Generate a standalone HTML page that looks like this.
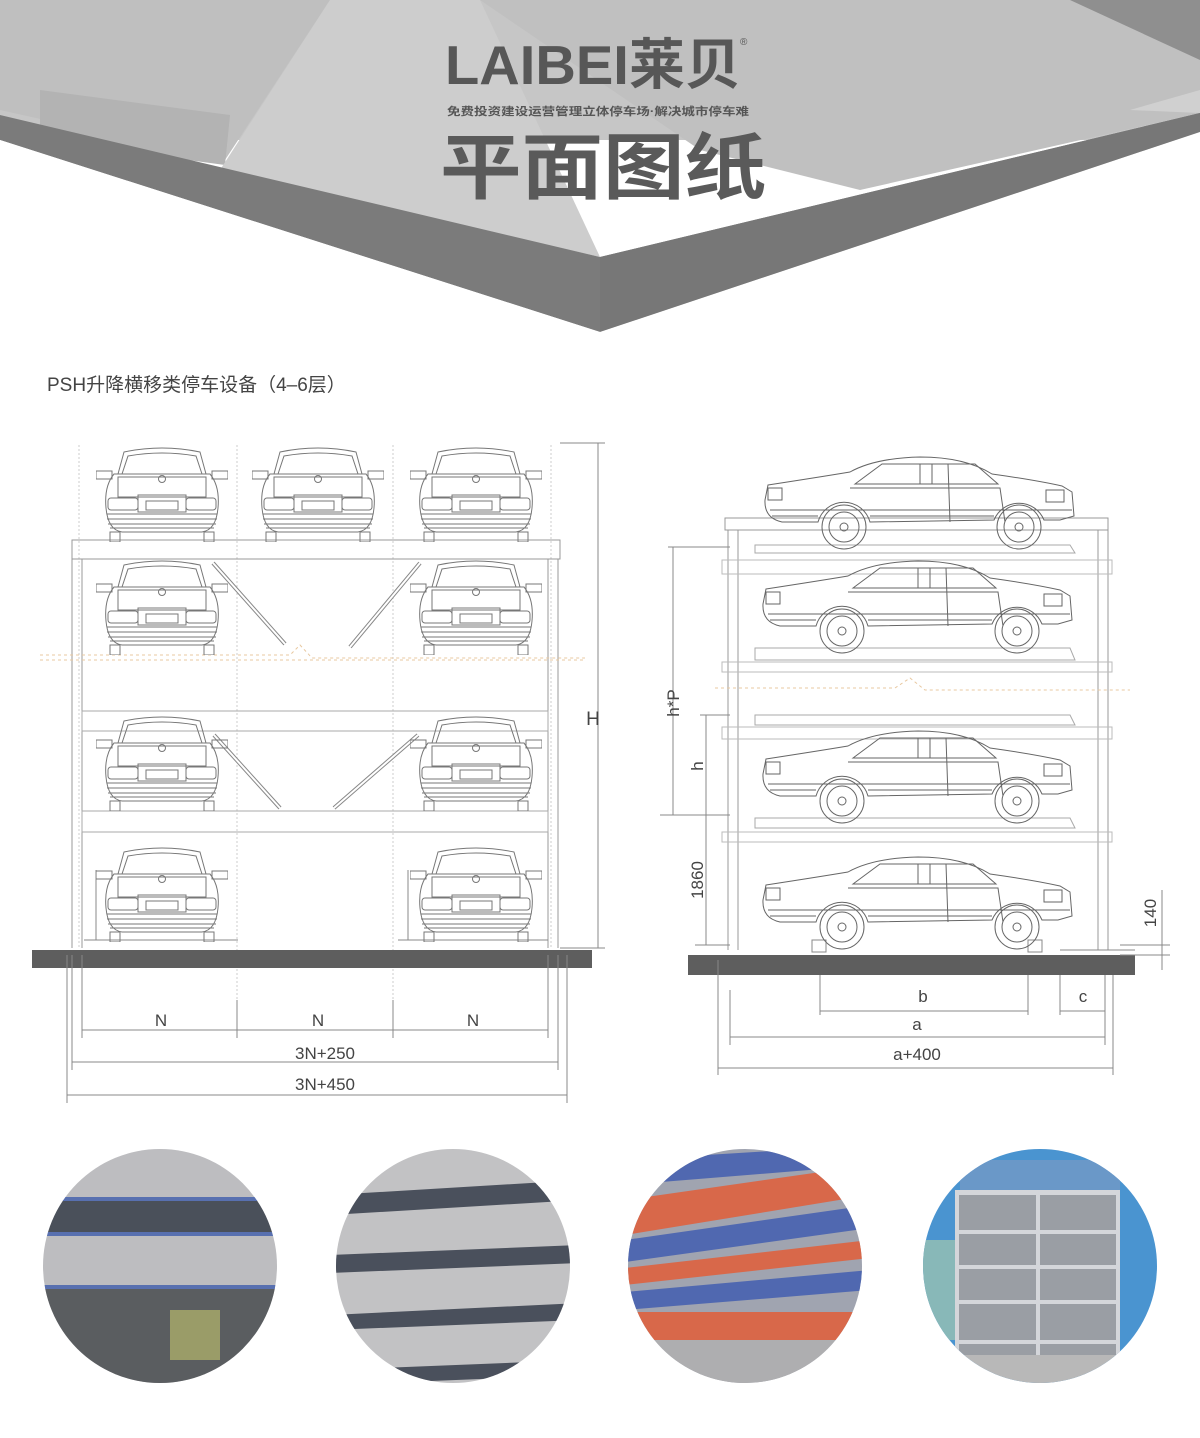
<!DOCTYPE html>
<html><head><meta charset="utf-8"><style>
html,body{margin:0;padding:0;background:#fff}
body{width:1200px;height:1438px;position:relative;overflow:hidden;font-family:"Liberation Sans","Noto Sans CJK SC",sans-serif}
svg{position:absolute;left:0;top:0}
</style></head><body>
<svg width="1200" height="1438" viewBox="0 0 1200 1438" xmlns="http://www.w3.org/2000/svg">
<defs>
<symbol id="fc" viewBox="0 0 132 96" width="132" height="96">
<g fill="none" stroke="#777" stroke-width="1">
<path d="M22,28 L28,6 Q66,-2 104,6 L110,28"/>
<path d="M26,28 L32,10 Q66,4 100,10 L106,28"/>
<rect x="0" y="25" width="16" height="8"/><rect x="116" y="25" width="16" height="8"/>
<path d="M18,28 L114,28 Q124,40 122,62 Q120,84 106,86 L26,86 Q12,84 10,62 Q8,40 18,28 Z"/>
<rect x="22" y="31" width="88" height="20"/><circle cx="66" cy="33" r="3.5"/>
<rect x="12" y="52" width="30" height="12" rx="3"/><rect x="90" y="52" width="30" height="12" rx="3"/>
<rect x="42" y="49" width="48" height="17"/><rect x="50" y="55" width="32" height="9"/>
<path d="M11,68 H121 M11,73 H121 M12,78 H120 M14,82 H118"/>
<rect x="14" y="86" width="10" height="10"/><rect x="108" y="86" width="10" height="10"/>
</g></symbol>
<symbol id="sc" viewBox="0 0 320 100" width="320" height="100">
<g fill="none" stroke="#666" stroke-width="1">
<path d="M5,48 L8,33 Q60,25 90,20 Q115,6 160,5 Q205,5 232,22 Q275,28 302,34 L312,40 L314,64 L300,68 L284,68 A27 27 0 0 0 234,68 L110,70 A27 27 0 0 0 58,70 L22,70 Q4,66 5,48 Z"/>
<path d="M95,32 L122,12 L215,12 L238,32 Z M160,12 V32 M172,12 V32 M188,12 L190,70"/>
<path d="M90,36 H240 L245,70 M10,58 H312 M12,64 H58 M110,64 H234"/>
<rect x="8" y="36" width="14" height="12"/><rect x="286" y="38" width="18" height="12"/>
<circle cx="84" cy="75" r="22"/><circle cx="84" cy="75" r="15"/><circle cx="84" cy="75" r="4"/>
<circle cx="259" cy="75" r="22"/><circle cx="259" cy="75" r="15"/><circle cx="259" cy="75" r="4"/>
</g></symbol>
<clipPath id="c1"><circle cx="160" cy="1266" r="117"/></clipPath>
<clipPath id="c2"><circle cx="453" cy="1266" r="117"/></clipPath>
<clipPath id="c3"><circle cx="745" cy="1266" r="117"/></clipPath>
<clipPath id="c4"><circle cx="1040" cy="1266" r="117"/></clipPath>
</defs>

<!-- header -->
<rect x="0" y="0" width="1200" height="140" fill="#c6c6c6"/>
<polygon points="0,0 330,0 225,160 0,110" fill="#bfbfbf"/>
<polygon points="40,90 230,115 225,165 40,140" fill="#b3b3b3"/>
<polygon points="330,0 480,0 600,257 220,170" fill="#cdcdcd"/>
<polygon points="480,0 1100,0 1200,60 1200,113 860,190 700,150" fill="#c0c0c0"/>
<polygon points="1070,0 1200,0 1200,60" fill="#8f8f8f"/>
<polygon points="1130,110 1200,90 1200,113" fill="#d0d0d0"/>
<polygon points="0,115 600,257 1200,113 1200,132 600,332 0,140" fill="#7b7b7b"/>
<polygon points="600,257 1200,113 1200,132 600,332" fill="#777"/>
<polygon points="0,140 600,332 1200,132 1200,1438 0,1438" fill="#fff"/>
<text x="445" y="84" font-size="55" font-weight="bold" fill="#575757" textLength="296" lengthAdjust="spacingAndGlyphs">LAIBEI莱贝</text>
<text x="740" y="45" font-size="10" fill="#575757">®</text>
<text x="447" y="115" font-size="11" font-weight="bold" fill="#555" textLength="302" lengthAdjust="spacingAndGlyphs">免费投资建设运营管理立体停车场·解决城市停车难</text>
<text x="440" y="193" font-size="72" font-weight="bold" fill="#5a5a5a" textLength="326" lengthAdjust="spacingAndGlyphs">平面图纸</text>

<text x="47" y="391" font-size="19" fill="#444">PSH升降横移类停车设备（4–6层）</text>

<!-- LEFT DIAGRAM -->
<g fill="none" stroke="#999" stroke-width="1">
<path d="M79,445 V948 M237,445 V1035 M393,445 V1035 M551,445 V948" stroke="#ccc" stroke-dasharray="2,2"/>
<rect x="72" y="540" width="488" height="19"/>
<path d="M72,559 V948 M82,559 V948 M548,559 V948 M558,559 V948"/>
<rect x="82" y="711" width="466" height="20" stroke="#aaa"/>
<rect x="82" y="811" width="466" height="21" stroke="#aaa"/>
<path d="M40,655 H290 L300,645 L312,658 H585 M40,660 H585" stroke="#e8c8a0" stroke-dasharray="3,3"/>
<path d="M213,563 L285,644 M420,563 L350,647 M214,735 L280,808 M418,735 L334,808" stroke="#888" stroke-width="4"/>
<path d="M213,563 L285,644 M420,563 L350,647 M214,735 L280,808 M418,735 L334,808" stroke="#fff" stroke-width="2"/>
<path d="M96,870 V940 M408,870 V940" stroke="#888"/>
<path d="M84,940 H238 M398,940 H548" stroke="#888"/>
</g>
<use href="#fc" x="96" y="446"/><use href="#fc" x="252" y="446"/><use href="#fc" x="410" y="446"/>
<use href="#fc" x="96" y="559"/><use href="#fc" x="410" y="559"/>
<use href="#fc" x="96" y="715"/><use href="#fc" x="410" y="715"/>
<use href="#fc" x="96" y="846"/><use href="#fc" x="410" y="846"/>
<rect x="32" y="950" width="560" height="18" fill="#5e5e5e"/>
<g stroke="#888" stroke-width="1" fill="none">
<path d="M560,443 H605 M598,443 V948 M560,948 H605"/>
<path d="M67,955 V1103 M72,955 V1070 M82,955 V1038 M548,955 V1038 M558,955 V1070 M567,955 V1103 M237,1000 V1038 M393,1000 V1038"/>
<path d="M82,1030 H548 M72,1062 H558 M67,1095 H567"/>
</g>
<g fill="#444" font-size="17" text-anchor="middle">
<text x="593" y="725" font-size="19">H</text>
<text x="161" y="1026">N</text><text x="318" y="1026">N</text><text x="473" y="1026">N</text>
<text x="325" y="1059">3N+250</text><text x="325" y="1090">3N+450</text>
</g>

<!-- RIGHT DIAGRAM -->
<g fill="none" stroke="#999" stroke-width="1">
<rect x="725" y="518" width="383" height="12"/>
<path d="M728,530 V950 M738,530 V950 M1098,530 V950 M1108,530 V950"/>
<path d="M755,545 H1070 L1075,553 H755 Z M755,648 H1070 L1075,660 H755 Z M755,715 H1070 L1075,725 H755 Z M755,818 H1070 L1075,828 H755 Z" stroke="#aaa"/>
<rect x="722" y="560" width="390" height="14" stroke="#bbb"/>
<rect x="722" y="662" width="390" height="10" stroke="#bbb"/>
<rect x="722" y="727" width="390" height="12" stroke="#bbb"/>
<rect x="722" y="832" width="390" height="10" stroke="#bbb"/>
<path d="M715,688 H895 L910,678 L925,690 H1130" stroke="#e8c8a0" stroke-dasharray="3,3"/>
<path d="M812,940 H826 V952 H812 Z M1028,940 H1042 V952 H1028 Z M1060,950 H1135" stroke="#888"/>
</g>
<use href="#sc" x="760" y="452"/><use href="#sc" x="758" y="556"/><use href="#sc" x="758" y="726"/><use href="#sc" x="758" y="852"/>
<rect x="688" y="955" width="447" height="20" fill="#5e5e5e"/>
<g stroke="#888" stroke-width="1" fill="none">
<path d="M668,547 H730 M673,547 V815 M660,815 H730 M706,715 V945 M700,715 H730 M695,945 H730"/>
<path d="M1120,945 H1170 M1120,955 H1170 M1162,890 V970"/>
<path d="M718,960 V1075 M730,990 V1045 M820,975 V1015 M1028,975 V1015 M1060,975 V1015 M1105,975 V1045 M1113,975 V1075"/>
<path d="M820,1011 H1028 M1060,1011 H1105 M730,1037 H1105 M718,1068 H1113"/>
</g>
<g fill="#444" font-size="17" text-anchor="middle">
<text transform="translate(679,703) rotate(-90)">h*P</text>
<text transform="translate(703,766) rotate(-90)">h</text>
<text transform="translate(703,880) rotate(-90)">1860</text>
<text transform="translate(1156,913) rotate(-90)">140</text>
<text x="923" y="1002">b</text><text x="1083" y="1002">c</text>
<text x="917" y="1030">a</text><text x="917" y="1060">a+400</text>
</g>

<!-- photos -->
<g clip-path="url(#c1)">
<rect x="40" y="1145" width="240" height="245" fill="#bdbdc0"/>
<rect x="40" y="1200" width="240" height="32" fill="#4a505a"/>
<rect x="40" y="1197" width="240" height="4" fill="#5870b0"/>
<rect x="40" y="1232" width="240" height="4" fill="#5870b0"/>
<rect x="40" y="1285" width="240" height="4" fill="#5870b0"/>
<rect x="40" y="1289" width="240" height="101" fill="#5a5d60"/>
<rect x="170" y="1310" width="50" height="50" fill="#9a9c68"/>
</g>
<g clip-path="url(#c2)">
<rect x="330" y="1145" width="250" height="245" fill="#c2c2c4"/>
<g fill="#4a505c"><polygon points="330,1195 580,1180 580,1200 330,1215"/><polygon points="330,1255 580,1245 580,1263 330,1273"/><polygon points="330,1315 580,1303 580,1320 330,1330"/><polygon points="330,1370 580,1360 580,1375 330,1385"/></g>
</g>
<g clip-path="url(#c3)">
<rect x="625" y="1145" width="245" height="245" fill="#a0a4b0"/>
<polygon points="625,1160 870,1145 870,1165 625,1185" fill="#5068b0"/>
<polygon points="625,1200 870,1165 870,1195 625,1235" fill="#d8684a"/>
<polygon points="625,1240 870,1205 870,1228 625,1262" fill="#5068b0"/>
<polygon points="625,1268 870,1240 870,1258 625,1285" fill="#d8684a"/>
<polygon points="625,1292 870,1270 870,1290 625,1310" fill="#5068b0"/>
<rect x="625" y="1312" width="245" height="28" fill="#d8684a"/>
<rect x="625" y="1340" width="245" height="50" fill="#aeaeb0"/>
</g>
<g clip-path="url(#c4)">
<rect x="920" y="1145" width="240" height="245" fill="#4a94d0"/>
<rect x="920" y="1240" width="40" height="100" fill="#88b8b8"/>
<rect x="955" y="1190" width="165" height="165" fill="#9a9ea4"/>
<g fill="#d4d6da"><rect x="955" y="1190" width="165" height="5"/><rect x="955" y="1230" width="165" height="4"/><rect x="955" y="1265" width="165" height="4"/><rect x="955" y="1300" width="165" height="4"/><rect x="955" y="1340" width="165" height="4"/><rect x="955" y="1190" width="4" height="165"/><rect x="1036" y="1190" width="4" height="165"/><rect x="1116" y="1190" width="4" height="165"/></g>
<rect x="920" y="1355" width="240" height="35" fill="#b8b8b8"/>
<rect x="960" y="1160" width="160" height="30" fill="#6a98c8"/>
</g>
</svg>
</body></html>
